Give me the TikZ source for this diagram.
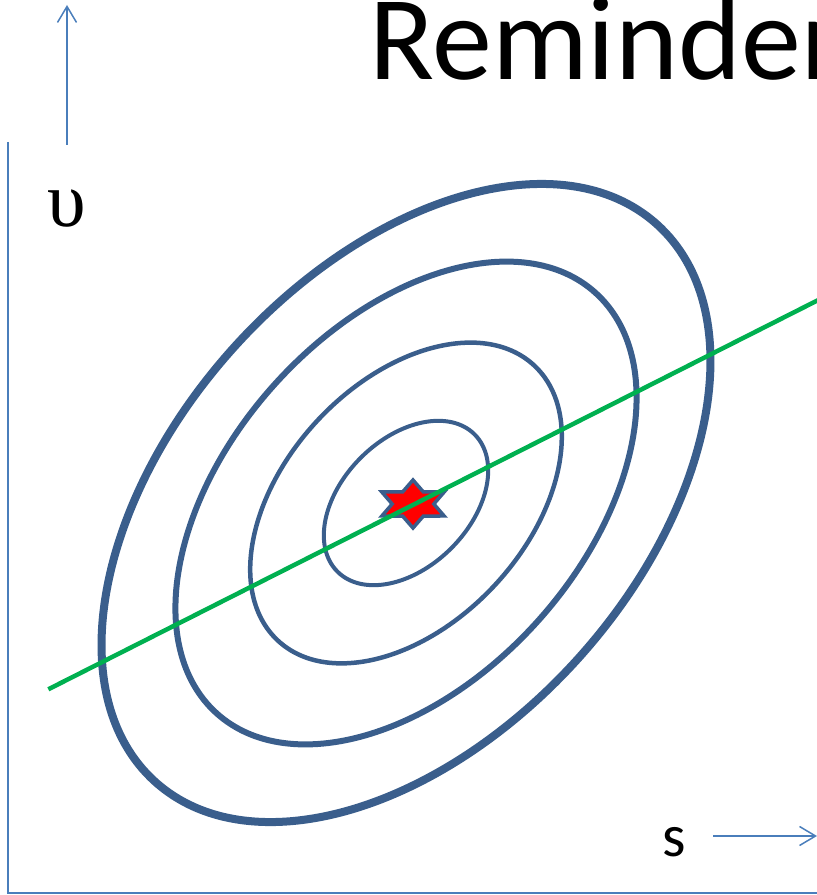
\documentclass[tikz,border=0pt]{standalone}
\usepackage{fontspec}
\newfontfamily\carlito{Carlito}
\newfontfamily\greekserif{Liberation Serif}
\usepackage{tikz}
\usetikzlibrary{arrows.meta,shapes.geometric}
\usepackage{xcolor}
\definecolor{axisblue}{RGB}{74,126,187}
\definecolor{ringblue}{RGB}{58,94,140}
\definecolor{fitgreen}{RGB}{0,176,80}

\begin{document}
\begin{tikzpicture}[x=1pt,y=1pt,>={Straight Barb[length=16pt,width=19pt]},
  axis/.style={draw=axisblue,line width=1.5pt},
  ring/.style={draw=ringblue}]
\useasboundingbox (0,0) rectangle (817,895);
\clip (0,0) rectangle (817,895);
% title, cut by the frame
\node[anchor=base west,inner sep=0pt,font=\carlito\fontsize{120}{124}\selectfont] (title) at (369,815) {Reminder};
% axes
\draw[axis] (8,753) -- (8,2) -- (817,2);
\coordinate (ufoot) at (67,750);
\coordinate (uhead) at (67,890);
\draw[axis,->] (ufoot) -- (uhead);
\node[font=\greekserif\fontsize{78}{78}\selectfont] (ulabel) at (67,686) {υ};
\node[font=\carlito\fontsize{60}{60}\selectfont] (slabel) at (674,53) {s};
\coordinate (sfoot) at (713,59);
\coordinate (shead) at (817,59);
\draw[axis,->] (sfoot) -- (shead);
% level curves
\coordinate (c) at (406,392);
\foreach \a/\b/\ang/\w in {97/64/45/4, 188/121/47/4.5, 283/177/48/6, 375/232/48/8}
  \draw[ring,line width=\w pt,rotate around={\ang:(c)}] (c) ellipse ({\a} and {\b});
% optimum
\node[star,star points=6,star point ratio=1.73,draw=ringblue,fill=red,line width=3.5pt,
  minimum size=48pt,inner sep=0pt,xscale=1.5,transform shape] (peak) at (413,391) {};
% fitted line
\coordinate (g1) at (48.3,205.7);
\coordinate (g2) at (830,600.9);
\draw[fitgreen,line width=4.5pt] (g1) -- (g2);
\end{tikzpicture}
\end{document}
